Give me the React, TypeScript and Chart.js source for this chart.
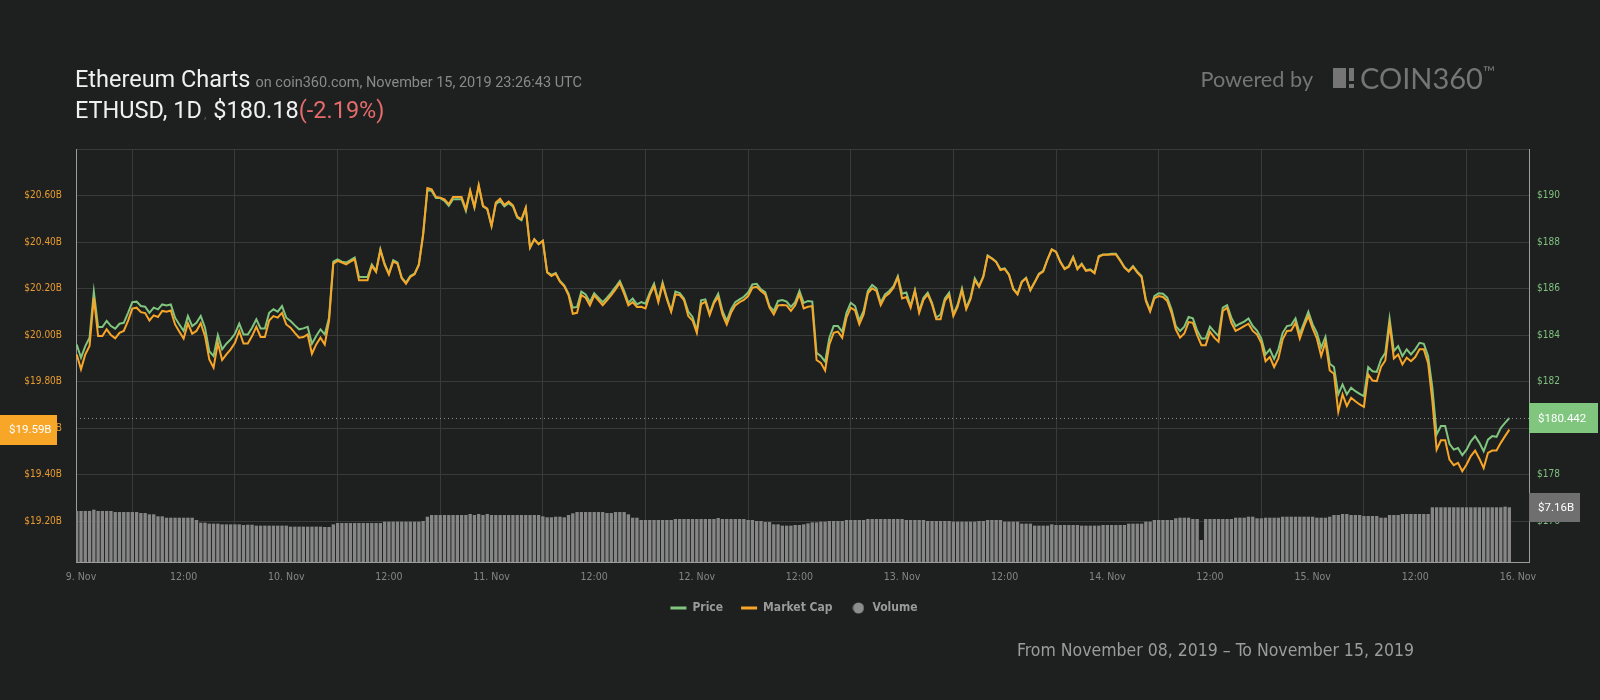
import React, { useEffect, useRef } from "react";
import { Chart, registerables } from "chart.js";

Chart.register(...registerables);

// ---------- data ----------
// Samples every 30 minutes, hours relative to 9 Nov 2019 00:00 UTC
const START_HOUR = -0.5;
const STEP_HOURS = 0.5;

// Price (USD)
const PRICE = [
  183.60, 183.03, 183.53, 183.89, 185.87, 184.35, 184.35, 184.61, 184.39, 184.28,
  184.49, 184.53, 184.96, 185.42, 185.44, 185.25, 185.22, 184.96, 185.18, 185.11,
  185.32, 185.28, 185.32, 184.75, 184.46, 184.18, 184.82, 184.39, 184.53, 184.82,
  184.32, 183.31, 183.10, 184.00, 183.39, 183.63, 183.82, 184.06, 184.49, 184.03,
  184.03, 184.32, 184.68, 184.29, 184.29, 184.96, 185.11, 185.01, 185.25, 184.75,
  184.61, 184.42, 184.25, 184.29, 184.36, 183.63, 183.96, 184.25, 184.03, 184.75,
  187.16, 187.26, 187.16, 187.12, 187.22, 187.33, 186.50, 186.50, 186.50, 187.04,
  186.76, 187.69, 187.07, 186.64, 187.22, 187.12, 186.47, 186.26, 186.54, 186.64,
  187.04, 188.34, 190.23, 190.20, 189.89,
  189.89, 189.77, 189.56, 189.84, 189.84, 189.84, 189.34, 190.17, 189.48, 190.42,
  189.53, 189.41, 188.69, 189.63, 189.77, 189.53, 189.67, 189.53, 189.05, 188.94,
  189.45, 187.76, 188.12, 187.91, 188.05, 186.71, 186.59, 186.67, 186.33, 186.14,
  185.78, 185.18, 185.21, 185.87, 185.75, 185.42, 185.80, 185.61, 185.42, 185.61,
  185.83, 186.07, 186.33, 185.90, 185.39, 185.57, 185.32, 185.42, 185.35, 185.83,
  186.21, 185.50, 186.26, 185.61, 185.04, 185.87, 185.81, 185.58, 185.01, 184.78,
  184.18, 185.50, 185.54, 184.92, 185.44, 185.78, 185.04, 184.61, 185.11, 185.42,
  185.54, 185.65, 185.83, 186.18, 186.21, 185.97, 185.85, 185.25, 185.04, 185.47,
  185.51, 185.44, 185.21, 185.42, 185.90,
  185.39, 185.47, 185.44, 183.24, 183.10, 182.86, 183.89, 184.39, 184.39, 184.15,
  184.96, 185.39, 185.25, 184.63, 185.04, 185.90, 186.16, 186.01, 185.39, 185.75,
  185.90, 186.11, 186.54, 185.78, 185.83, 185.25, 185.94, 185.04, 185.61, 185.83,
  185.39, 184.75, 184.89, 185.58, 185.83, 184.89, 185.32, 186.01, 185.18, 185.61,
  186.44, 186.11, 186.54, 187.43, 187.30, 187.16, 186.83, 186.87, 186.61, 186.00,
  185.78, 186.30, 186.47, 185.94, 186.28, 186.64, 186.76, 187.26, 187.69, 187.59,
  187.16, 186.86, 186.97, 187.36, 186.86, 187.07, 186.79, 186.83, 186.69, 187.40,
  187.47, 187.47, 187.50, 187.50, 187.23, 186.93, 186.76, 186.97, 186.73, 186.54,
  185.54, 185.06, 185.68, 185.80, 185.78,
  185.61, 185.11, 184.39, 184.18, 184.36, 184.78, 184.72, 184.20, 183.86, 183.86,
  184.36, 184.15, 183.96, 185.18, 185.29, 184.75, 184.39, 184.49, 184.58, 184.72,
  184.39, 184.20, 183.86, 183.17, 183.39, 182.98, 183.39, 184.10, 184.39, 184.43,
  184.72, 184.06, 184.53, 185.01, 184.46, 184.10, 183.46, 183.92, 182.77, 182.63,
  181.45, 181.88, 181.45, 181.74, 181.59, 181.48, 181.38, 182.63, 182.45, 182.42,
  182.96, 183.24, 184.71, 183.31, 183.53, 183.10, 183.39, 183.17, 183.39, 183.67,
  183.63, 183.10, 181.74, 179.73, 180.09, 180.09, 179.33, 179.08, 179.15, 178.84,
  179.08, 179.44, 179.66, 179.37, 179.01, 179.51, 179.66, 179.63, 180.01, 180.23,
  180.44,
];

// Market cap (billion USD)
const MARKET_CAP = [
  19.917, 19.853, 19.917, 19.953, 20.161, 19.996, 19.996, 20.025, 20.000, 19.986,
  20.010, 20.018, 20.061, 20.114, 20.118, 20.099, 20.095, 20.063, 20.085, 20.078,
  20.104, 20.101, 20.106, 20.046, 20.015, 19.985, 20.051, 20.006, 20.018, 20.051,
  19.996, 19.896, 19.860, 19.967, 19.893, 19.917, 19.939, 19.967, 20.018, 19.964,
  19.964, 19.996, 20.036, 19.992, 19.992, 20.063, 20.082, 20.075, 20.096, 20.046,
  20.032, 20.010, 19.989, 19.992, 20.003, 19.920, 19.960, 19.989, 19.960, 20.061,
  20.307, 20.319, 20.312, 20.304, 20.316, 20.326, 20.236, 20.236, 20.236, 20.297,
  20.271, 20.365, 20.302, 20.261, 20.316, 20.307, 20.244, 20.221, 20.250, 20.261,
  20.302, 20.431, 20.632, 20.627, 20.594,
  20.591, 20.584, 20.563, 20.594, 20.594, 20.594, 20.541, 20.623, 20.551, 20.645,
  20.556, 20.544, 20.469, 20.570, 20.586, 20.560, 20.574, 20.558, 20.510, 20.498,
  20.548, 20.376, 20.412, 20.391, 20.405, 20.269, 20.254, 20.264, 20.230, 20.210,
  20.172, 20.092, 20.096, 20.172, 20.161, 20.128, 20.171, 20.150, 20.129, 20.150,
  20.172, 20.197, 20.224, 20.178, 20.128, 20.142, 20.121, 20.122, 20.115, 20.172,
  20.211, 20.142, 20.218, 20.154, 20.101, 20.175, 20.172, 20.151, 20.082, 20.063,
  20.010, 20.132, 20.144, 20.086, 20.137, 20.164, 20.089, 20.046, 20.096, 20.128,
  20.142, 20.151, 20.168, 20.204, 20.208, 20.190, 20.175, 20.118, 20.089, 20.128,
  20.129, 20.128, 20.104, 20.128, 20.175,
  20.115, 20.122, 20.125, 19.893, 19.881, 19.848, 19.960, 20.010, 20.015, 19.989,
  20.075, 20.118, 20.106, 20.046, 20.089, 20.180, 20.201, 20.190, 20.129, 20.165,
  20.180, 20.204, 20.247, 20.158, 20.164, 20.118, 20.190, 20.096, 20.151, 20.175,
  20.132, 20.068, 20.068, 20.147, 20.172, 20.082, 20.122, 20.193, 20.111, 20.154,
  20.236, 20.207, 20.250, 20.340, 20.329, 20.314, 20.280, 20.284, 20.259, 20.197,
  20.175, 20.228, 20.244, 20.193, 20.226, 20.261, 20.273, 20.325, 20.368, 20.358,
  20.314, 20.284, 20.294, 20.333, 20.283, 20.304, 20.276, 20.280, 20.266, 20.337,
  20.345, 20.345, 20.347, 20.347, 20.320, 20.290, 20.273, 20.294, 20.269, 20.250,
  20.147, 20.101, 20.158, 20.168, 20.164,
  20.147, 20.096, 20.025, 19.989, 20.007, 20.056, 20.053, 20.000, 19.957, 19.957,
  20.015, 19.989, 19.972, 20.104, 20.118, 20.053, 20.018, 20.028, 20.039, 20.049,
  20.018, 20.003, 19.967, 19.888, 19.906, 19.863, 19.900, 19.982, 20.018, 20.020,
  20.053, 19.985, 20.039, 20.082, 20.029, 19.986, 19.910, 19.970, 19.848, 19.834,
  19.670, 19.745, 19.695, 19.731, 19.716, 19.702, 19.692, 19.831, 19.805, 19.802,
  19.863, 19.891, 20.046, 19.900, 19.917, 19.874, 19.903, 19.888, 19.906, 19.939,
  19.939, 19.881, 19.716, 19.508, 19.548, 19.548, 19.465, 19.441, 19.451, 19.415,
  19.444, 19.480, 19.504, 19.469, 19.429, 19.494, 19.504, 19.504, 19.537, 19.566,
  19.594,
];

// 24h volume (billion USD)
const VOLUME = [
  6.68, 6.68, 6.68, 6.68, 6.85, 6.68, 6.68, 6.68, 6.68, 6.54,
  6.54, 6.54, 6.54, 6.54, 6.54, 6.41, 6.41, 6.24, 6.24, 5.98,
  5.98, 5.80, 5.80, 5.80, 5.80, 5.80, 5.80, 5.80, 5.50, 5.15,
  5.15, 5.02, 5.02, 5.02, 4.93, 4.93, 4.93, 4.93, 4.93, 4.84,
  4.88, 4.88, 4.76, 4.76, 4.76, 4.76, 4.76, 4.76, 4.76, 4.76,
  4.63, 4.63, 4.63, 4.63, 4.63, 4.63, 4.63, 4.63, 4.58, 4.58,
  4.93, 5.10, 5.10, 5.10, 5.10, 5.10, 5.10, 5.10, 5.10, 5.10,
  5.10, 5.10, 5.28, 5.28, 5.28, 5.28, 5.28, 5.28, 5.28, 5.28,
  5.28, 5.37, 5.93, 6.15, 6.15,
  6.15, 6.15, 6.15, 6.15, 6.15, 6.15, 6.15, 6.28, 6.15, 6.28,
  6.15, 6.28, 6.15, 6.15, 6.15, 6.15, 6.15, 6.15, 6.15, 6.15,
  6.15, 6.15, 6.15, 6.15, 5.98, 5.85, 5.85, 5.93, 5.93, 5.85,
  6.15, 6.37, 6.54, 6.54, 6.54, 6.54, 6.54, 6.54, 6.54, 6.41,
  6.41, 6.54, 6.54, 6.54, 6.24, 5.80, 5.80, 5.50, 5.50, 5.50,
  5.50, 5.50, 5.50, 5.50, 5.50, 5.63, 5.63, 5.63, 5.63, 5.63,
  5.63, 5.63, 5.63, 5.63, 5.63, 5.76, 5.63, 5.63, 5.63, 5.63,
  5.63, 5.63, 5.50, 5.50, 5.37, 5.37, 5.24, 5.24, 4.93, 4.93,
  4.76, 4.76, 4.76, 4.84, 4.84,
  4.93, 5.06, 5.19, 5.19, 5.28, 5.28, 5.37, 5.37, 5.37, 5.37,
  5.50, 5.50, 5.50, 5.50, 5.50, 5.63, 5.63, 5.63, 5.63, 5.63,
  5.63, 5.63, 5.63, 5.63, 5.50, 5.50, 5.50, 5.50, 5.50, 5.37,
  5.37, 5.37, 5.37, 5.37, 5.37, 5.28, 5.28, 5.28, 5.28, 5.28,
  5.28, 5.37, 5.37, 5.50, 5.50, 5.50, 5.50, 5.28, 5.28, 5.28,
  5.28, 5.02, 5.02, 5.02, 4.76, 4.76, 4.76, 4.76, 4.93, 4.84,
  4.84, 4.84, 4.84, 4.84, 4.84, 4.76, 4.76, 4.76, 4.76, 4.76,
  4.84, 4.84, 4.84, 4.84, 4.84, 4.84, 5.02, 5.02, 5.02, 5.02,
  5.28, 5.28, 5.50, 5.50, 5.50,
  5.50, 5.50, 5.72, 5.80, 5.80, 5.80, 5.63, 5.63, 2.88, 5.63,
  5.63, 5.63, 5.63, 5.63, 5.63, 5.63, 5.80, 5.80, 5.80, 5.93,
  5.93, 5.72, 5.72, 5.80, 5.80, 5.80, 5.80, 5.93, 5.93, 5.93,
  5.93, 5.93, 5.93, 5.93, 5.93, 5.80, 5.80, 5.80, 5.93, 6.15,
  6.15, 6.28, 6.28, 6.15, 6.15, 6.15, 6.02, 6.02, 6.02, 6.02,
  5.80, 5.80, 6.15, 6.15, 6.15, 6.28, 6.28, 6.28, 6.28, 6.28,
  6.28, 6.28, 7.16, 7.16, 7.16, 7.16, 7.16, 7.16, 7.16, 7.16,
  7.16, 7.16, 7.16, 7.16, 7.16, 7.16, 7.16, 7.16, 7.16, 7.25,
  7.16,
];

const HOURS = PRICE.map((_, i) => START_HOUR + i * STEP_HOURS);

// axis ticks
const X_TICKS = [0, 12, 24, 36, 48, 60, 72, 84, 96, 108, 120, 132, 144, 156, 168];
const MC_TICKS = [19.2, 19.4, 19.6, 19.8, 20.0, 20.2, 20.4, 20.6, 20.8];
const PRICE_TICKS = [176, 178, 180, 182, 184, 186, 188, 190, 192];
const DAY_NAMES = ["9. Nov", "10. Nov", "11. Nov", "12. Nov", "13. Nov", "14. Nov", "15. Nov", "16. Nov"];

// ---------- style ----------
const BG = "#1e1f1f";
const GRID = "#393a3a";
const AXIS_LINE = "#9c9c9c";
const GREEN = "#80c67f";
const ORANGE = "#f7a628";
const VOL_BAR = "#868686";
const VOL_BOX = "#6f6f6f";
const COND = "'DejaVu Sans Condensed', 'DejaVu Sans', sans-serif";

export default function App() {
  const ref = useRef<HTMLCanvasElement | null>(null);

  useEffect(() => {
    const canvas = ref.current;
    if (!canvas) return;

    const dot = document.createElement("canvas");
    dot.width = 12;
    dot.height = 12;
    const dctx = dot.getContext("2d");
    if (dctx) {
      dctx.fillStyle = "#8d8d8d";
      dctx.beginPath();
      dctx.arc(6, 6, 5.5, 0, Math.PI * 2);
      dctx.fill();
    }

    const markers = {
      id: "lastMarkers",
      afterDatasetsDraw(chart: any) {
        const { ctx, chartArea } = chart;
        const yP = Math.round(chart.scales.price.getPixelForValue(PRICE[PRICE.length - 1])) + 0.5;
        ctx.save();
        ctx.strokeStyle = "#8f8f8f";
        ctx.lineWidth = 1;
        ctx.setLineDash([1, 3]);
        ctx.beginPath();
        ctx.moveTo(chartArea.left, yP);
        ctx.lineTo(chartArea.right, yP);
        ctx.stroke();
        ctx.restore();
      },
      afterDraw(chart: any) {
        const { ctx, chartArea } = chart;
        const yP = chart.scales.price.getPixelForValue(PRICE[PRICE.length - 1]);
        const yM = chart.scales.mc.getPixelForValue(MARKET_CAP[MARKET_CAP.length - 1]);
        const yV = chart.scales.vol.getPixelForValue(VOLUME[VOLUME.length - 1]);
        const box = (x: number, y: number, w: number, h: number, color: string, text: string) => {
          ctx.save();
          ctx.fillStyle = color;
          ctx.fillRect(x, Math.round(y - h / 2), w, h);
          ctx.fillStyle = "#ffffff";
          ctx.font = "11.5px Roboto";
          ctx.textBaseline = "middle";
          ctx.textAlign = "left";
          ctx.fillText(text, x + 9, y + 1);
          ctx.restore();
        };
        box(chartArea.right, yP, 69, 30, GREEN, "$" + PRICE[PRICE.length - 1].toFixed(3).replace(/0$/, "2"));
        box(0, yM, 57, 30, ORANGE, "$" + MARKET_CAP[MARKET_CAP.length - 1].toFixed(2) + "B");
        box(chartArea.right, yV, 51, 29, VOL_BOX, "$" + VOLUME[VOLUME.length - 1].toFixed(2) + "B");
      },
    };

    const chart = new Chart(canvas, {
      type: "line",
      data: {
        datasets: [
          {
            label: "Price",
            data: HOURS.map((h, i) => ({ x: h, y: PRICE[i] })),
            yAxisID: "price",
            borderColor: GREEN,
            backgroundColor: GREEN,
            borderWidth: 2,
            pointRadius: 0,
            tension: 0,
            order: 2,
          },
          {
            label: "Market Cap",
            data: HOURS.map((h, i) => ({ x: h, y: MARKET_CAP[i] })),
            yAxisID: "mc",
            borderColor: ORANGE,
            backgroundColor: ORANGE,
            borderWidth: 2,
            pointRadius: 0,
            tension: 0,
            order: 1,
          },
          {
            type: "bar",
            label: "Volume",
            data: HOURS.map((h, i) => ({ x: h, y: VOLUME[i] })),
            yAxisID: "vol",
            backgroundColor: VOL_BAR,
            borderWidth: 0,
            barPercentage: 0.78,
            categoryPercentage: 1,
            order: 3,
          },
        ],
      } as any,
      options: {
        responsive: false,
        animation: false,
        events: [],
        layout: { padding: { top: 149, left: 0, right: 12, bottom: 76 } },
        scales: {
          x: {
            type: "linear",
            min: -0.585,
            max: 169.3,
            offset: false,
            afterBuildTicks: (axis: any) => {
              axis.ticks = X_TICKS.map((v) => ({ value: v }));
            },
            afterFit: (axis: any) => {
              axis.height = 22;
            },
            ticks: {
              autoSkip: false,
              maxRotation: 0,
              padding: 9,
              color: "#858585",
              font: { family: COND, size: 10.5 },
              callback: (v: any) => (Number(v) % 24 === 0 ? DAY_NAMES[Number(v) / 24] : "12:00"),
            },
            grid: { color: GRID, drawTicks: false },
            border: { display: true, color: AXIS_LINE, width: 1 },
          },
          mc: {
            type: "linear",
            position: "left",
            min: 19.025,
            max: 20.8,
            afterBuildTicks: (axis: any) => {
              axis.ticks = MC_TICKS.map((v) => ({ value: v }));
            },
            afterFit: (axis: any) => {
              axis.width = 76;
            },
            ticks: {
              padding: 14,
              color: "#e89c30",
              font: { family: COND, size: 10 },
              callback: (v: any) => (Number(v) > 20.7 ? "" : "$" + Number(v).toFixed(2) + "B"),
            },
            grid: { color: GRID, drawTicks: false },
            border: { display: true, color: AXIS_LINE, width: 1 },
          },
          price: {
            type: "linear",
            position: "right",
            min: 174.25,
            max: 192,
            afterBuildTicks: (axis: any) => {
              axis.ticks = PRICE_TICKS.map((v) => ({ value: v }));
            },
            afterFit: (axis: any) => {
              axis.width = 59;
            },
            ticks: {
              padding: 8,
              color: "#7fc07e",
              font: { family: COND, size: 10 },
              callback: (v: any) => (Number(v) > 191 ? "" : "$" + Number(v)),
            },
            grid: { drawOnChartArea: false, drawTicks: false },
            border: { display: true, color: AXIS_LINE, width: 1 },
          },
          vol: {
            type: "linear",
            display: false,
            min: 0,
            max: 54.06,
          },
        },
        plugins: {
          tooltip: { enabled: false },
          legend: {
            display: true,
            position: "bottom",
            labels: {
              usePointStyle: true,
              pointStyleWidth: 16,
              padding: 18,
              color: "#9a9a9a",
              font: { family: COND, size: 12, weight: "bold" },
              sort: (a: any, b: any) => a.datasetIndex - b.datasetIndex,
              generateLabels: (c: any) => {
                const items = (Chart.defaults.plugins.legend.labels as any).generateLabels(c);
                return items.map((it: any) => {
                  if (it.datasetIndex === 2) {
                    return { ...it, pointStyle: dot, lineWidth: 0 };
                  }
                  const col = it.datasetIndex === 0 ? GREEN : ORANGE;
                  return { ...it, pointStyle: "line", strokeStyle: col, fillStyle: col, lineWidth: 3 };
                });
              },
            },
          },
        },
      } as any,
      plugins: [markers],
    });

    return () => chart.destroy();
  }, []);

  const gray = "#757575";
  return (
    <div
      style={{
        position: "fixed",
        left: 0,
        top: 0,
        width: 1600,
        height: 700,
        background: BG,
        overflow: "hidden",
      }}
    >
      <canvas
        ref={ref}
        width={1600}
        height={700}
        style={{ position: "absolute", left: 0, top: 0, width: 1600, height: 700 }}
      />
      <div
        style={{
          position: "absolute",
          left: 75,
          top: 68.2,
          lineHeight: 1,
          whiteSpace: "nowrap",
          fontFamily: "Roboto, sans-serif",
          fontSize: 23.5,
          color: "#f0f0f0",
        }}
      >
        <span>Ethereum Charts</span>
        <span style={{ fontSize: 14.5, color: "#8a8a8a", marginLeft: 5 }}>
          on coin360.com, November 15, 2019 23:26:43 UTC
        </span>
      </div>
      <div
        style={{
          position: "absolute",
          left: 75,
          top: 98.7,
          lineHeight: 1,
          whiteSpace: "nowrap",
          fontFamily: "Roboto, sans-serif",
          fontSize: 23.5,
          color: "#f0f0f0",
        }}
      >
        <span>ETHUSD, 1D</span>
        <span style={{ fontSize: 12, color: "#5a5a5a", marginLeft: 2 }}>,</span>
        <span style={{ marginLeft: 7 }}>$180.18</span>
        <span style={{ color: "#e66b6b" }}>(-2.19%)</span>
      </div>

      <div
        style={{
          position: "absolute",
          left: 1200.5,
          top: 69.2,
          lineHeight: 1,
          whiteSpace: "nowrap",
          fontFamily: "Lato, sans-serif",
          fontSize: 21.7,
          color: gray,
        }}
      >
        Powered by
      </div>
      <div style={{ position: "absolute", left: 1332.7, top: 68.3, width: 13.3, height: 20, background: gray }} />
      <div style={{ position: "absolute", left: 1349.3, top: 68.3, width: 4.7, height: 12.5, background: gray }} />
      <div style={{ position: "absolute", left: 1349.3, top: 84.3, width: 4.7, height: 4, background: gray }} />
      <div
        style={{
          position: "absolute",
          left: 1360,
          top: 62.6,
          lineHeight: 1,
          whiteSpace: "nowrap",
          fontFamily: "Lato, sans-serif",
          fontSize: 29,
          color: gray,
        }}
      >
        COIN360
        <span style={{ fontSize: 16, verticalAlign: "top", position: "relative", top: 1 }}>™</span>
      </div>

      <div
        style={{
          position: "absolute",
          left: 1017,
          top: 642.2,
          lineHeight: 1,
          whiteSpace: "nowrap",
          fontFamily: COND,
          fontSize: 17.5,
          color: "#9c9c9c",
        }}
      >
        From November 08, 2019 – To November 15, 2019
      </div>
    </div>
  );
}
